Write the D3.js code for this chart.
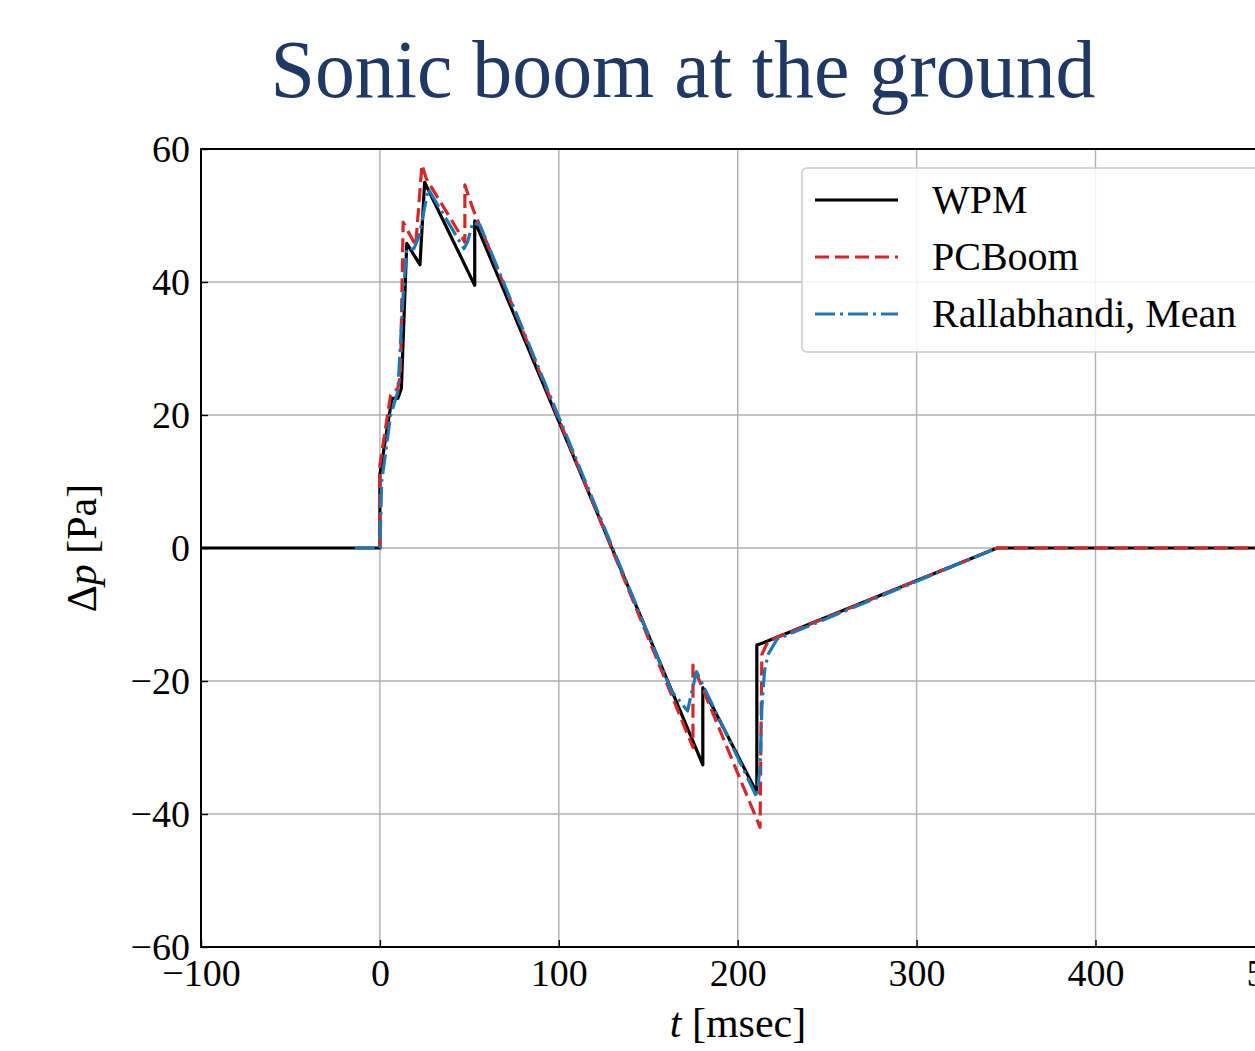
<!DOCTYPE html>
<html>
<head>
<meta charset="utf-8">
<script src="https://cdn.jsdelivr.net/npm/d3@7"></script>
<style>
  html, body { margin: 0; padding: 0; background: #fff; overflow: hidden; }
  svg { display: block; }
  text { font-family: "Liberation Serif", "Times New Roman", serif; }
</style>
</head>
<body>
<svg id="chart" width="1255" height="1051"></svg>
<script>
// Ground-level sonic boom signatures: time [msec] vs overpressure [Pa]
const wpmT = [-100, 0, 0, 6.7, 10, 12, 15, 22.4, 25, 53, 53, 180.5, 180.5, 210.7, 210.7, 214, 345, 500];
const wpmP = [0, 0, 11, 22.5, 22.5, 24, 45.8, 42.6, 55, 39.5, 49.2, -32.6, -21, -36.8, -14.6, -14.3, 0, 0];

const pcboomT = [0, 0, 6, 10, 11.5, 13, 20, 23.5, 26, 47.5, 47.5, 52, 175, 175, 212.5, 213.5, 217, 345, 500];
const pcboomP = [0, 12.5, 23, 24, 26, 49, 45.5, 57.6, 55.5, 46, 54.6, 51, -30, -17.6, -42, -16, -14, 0, 0];

const ralT = [-14, 0, 1, 6, 10, 13, 15, 19, 22, 27, 47, 49, 52, 56, 163, 172, 174, 177, 210.7, 212.5, 213.5, 215, 217, 222, 345];
const ralP = [0, 0, 10, 20, 23.5, 38, 45, 45, 47, 54, 45, 46, 49, 48.5, -21.5, -24.5, -22, -18.6, -37.5, -33, -24, -18.5, -16, -13.7, 0];

const xTicks = [-100, 0, 100, 200, 300, 400, 500];
const yTicks = [-60, -40, -20, 0, 20, 40, 60];

const seriesNames = ["WPM", "PCBoom", "Rallabhandi, Mean"];

const svg = d3.select("#chart");
const plotLeft = 201, plotTop = 149, plotBottom = 947;
const x = d3.scaleLinear().domain([-100, 500]).range([plotLeft, plotLeft + 600 * 1.789]);
const y = d3.scaleLinear().domain([-60, 60]).range([plotBottom, plotTop]);
const plotRight = x(500);

// title
svg.append("text")
  .attr("x", 683).attr("y", 97)
  .attr("text-anchor", "middle")
  .attr("font-size", 82)
  .attr("fill", "#203864")
  .attr("textLength", 825)
  .attr("lengthAdjust", "spacingAndGlyphs")
  .text("Sonic boom at the ground");

// grid
const grid = svg.append("g");
grid.selectAll(".gx").data(xTicks).join("line")
  .attr("x1", d => x(d)).attr("x2", d => x(d))
  .attr("y1", plotTop).attr("y2", plotBottom)
  .attr("stroke", "#b0b0b0").attr("stroke-width", 1.4);
grid.selectAll(".gy").data(yTicks).join("line")
  .attr("x1", plotLeft).attr("x2", plotRight)
  .attr("y1", d => y(d)).attr("y2", d => y(d))
  .attr("stroke", "#b0b0b0").attr("stroke-width", 1.4);

// axes with inward ticks
const fmt = d => d < 0 ? "\u2212" + Math.abs(d) : String(d);
const xAxis = svg.append("g").attr("transform", `translate(0,${plotBottom})`)
  .call(d3.axisBottom(x).tickValues(xTicks).tickSize(-7).tickPadding(12).tickFormat(fmt));
const yAxis = svg.append("g").attr("transform", `translate(${plotLeft},0)`)
  .call(d3.axisLeft(y).tickValues(yTicks).tickSize(-7).tickPadding(11).tickFormat(fmt));
[xAxis, yAxis].forEach(a => {
  a.select(".domain").remove();
  a.selectAll(".tick line").attr("stroke", "#000").attr("stroke-width", 1.4);
  a.selectAll(".tick text").attr("font-size", 38).attr("fill", "#000")
    .attr("font-family", "Liberation Serif, serif");
});
xAxis.selectAll(".tick text").attr("dy", "0.71em");

// plot frame
svg.append("rect")
  .attr("x", plotLeft).attr("y", plotTop)
  .attr("width", plotRight - plotLeft).attr("height", plotBottom - plotTop)
  .attr("fill", "none").attr("stroke", "#000").attr("stroke-width", 2);

// axis labels
const xl = svg.append("text").attr("x", 738).attr("y", 1037)
  .attr("text-anchor", "middle").attr("font-size", 42).attr("fill", "#000");
xl.append("tspan").attr("font-style", "italic").text("t");
xl.append("tspan").text(" [msec]");

const yl = svg.append("text")
  .attr("transform", "translate(96,548) rotate(-90)")
  .attr("text-anchor", "middle").attr("font-size", 42).attr("fill", "#000");
yl.append("tspan").text("\u0394");
yl.append("tspan").attr("font-style", "italic").text("p");
yl.append("tspan").text(" [Pa]");

// series
const line = d3.line().x(d => x(d[0])).y(d => y(d[1]));
const zip = (ts, ps) => ts.map((t, i) => [t, ps[i]]);
const series = [
  { name: seriesNames[0], data: zip(wpmT, wpmP), color: "#000000", dash: null },
  { name: seriesNames[1], data: zip(pcboomT, pcboomP), color: "#d62728", dash: "14,6" },
  { name: seriesNames[2], data: zip(ralT, ralP), color: "#1f77b4", dash: "20,5,3,5" }
];

svg.append("clipPath").attr("id", "plotclip").append("rect")
  .attr("x", plotLeft).attr("y", plotTop)
  .attr("width", plotRight - plotLeft).attr("height", plotBottom - plotTop);

const plot = svg.append("g").attr("clip-path", "url(#plotclip)");
series.forEach(s => {
  plot.append("path").datum(s.data)
    .attr("d", line)
    .attr("fill", "none")
    .attr("stroke", s.color)
    .attr("stroke-width", 3.2)
    .attr("stroke-linejoin", "round")
    .attr("stroke-dasharray", s.dash);
});

// legend
const lg = svg.append("g");
lg.append("rect")
  .attr("x", 802).attr("y", 168).attr("width", 480).attr("height", 184)
  .attr("rx", 5).attr("fill", "#fff").attr("fill-opacity", 0.85)
  .attr("stroke", "#cccccc").attr("stroke-width", 1.5);
series.forEach((s, i) => {
  const yy = 200 + i * 57;
  lg.append("line")
    .attr("x1", 815).attr("x2", 898).attr("y1", yy).attr("y2", yy)
    .attr("stroke", s.color).attr("stroke-width", 3.2)
    .attr("stroke-dasharray", s.dash);
  lg.append("text")
    .attr("x", 932).attr("y", yy + 13)
    .attr("font-size", 40).attr("fill", "#000")
    .text(s.name);
});
</script>
</body>
</html>
